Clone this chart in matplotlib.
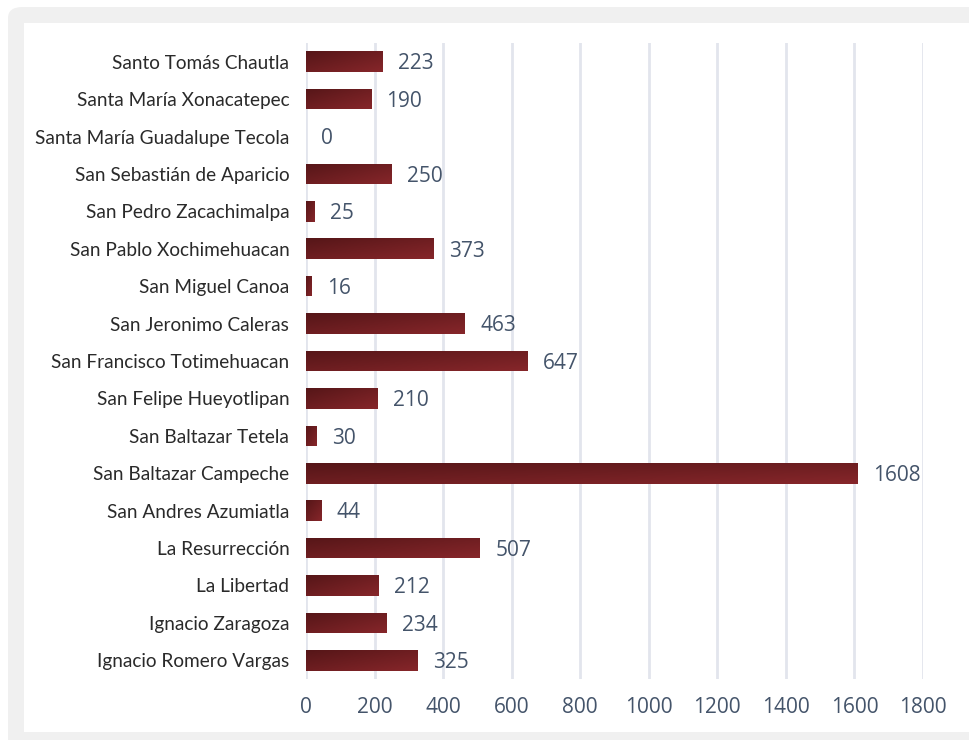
import matplotlib.pyplot as plt
import numpy as np
from matplotlib.patches import FancyBboxPatch, Rectangle
from matplotlib.colors import LinearSegmentedColormap

# Localidades y número de registros
localidades = [
    "Ignacio Romero Vargas", "Ignacio Zaragoza", "La Libertad", "La Resurrección",
    "San Andres Azumiatla", "San Baltazar Campeche", "San Baltazar Tetela",
    "San Felipe Hueyotlipan", "San Francisco Totimehuacan", "San Jeronimo Caleras",
    "San Miguel Canoa", "San Pablo Xochimehuacan", "San Pedro Zacachimalpa",
    "San Sebastián de Aparicio", "Santa María Guadalupe Tecola",
    "Santa María Xonacatepec", "Santo Tomás Chautla",
]
valores = [325, 234, 212, 507, 44, 1608, 30, 210, 647, 463, 16, 373, 25, 250, 0, 190, 223]
ticks_x = [0, 200, 400, 600, 800, 1000, 1200, 1400, 1600, 1800]

W, H = 969, 740
fig = plt.figure(figsize=(W / 100, H / 100), dpi=100)
fig.patch.set_facecolor("white")

# marco gris redondeado y panel blanco
fig.patches.append(FancyBboxPatch((8 / W, 1 - 760 / H), 1000 / W, 753 / H,
                                  boxstyle="round,pad=0,rounding_size=0.015",
                                  transform=fig.transFigure, facecolor="#f0f0f0",
                                  edgecolor="none", zorder=-3))
fig.patches.append(Rectangle((24 / W, 1 - 732 / H), 945 / W, 709 / H,
                             transform=fig.transFigure, facecolor="white",
                             edgecolor="none", zorder=-2))

ax = fig.add_axes([306 / W, 1 - 679 / H, 617 / W, 636 / H])
ax.set_facecolor("none")

y = np.arange(len(localidades))
bars = ax.barh(y, valores, height=0.55, color="#6e1f22", zorder=3)

# degradado diagonal dentro de cada barra
cmap = LinearSegmentedColormap.from_list("vino", ["#561618", "#86262a"])
grad = np.add.outer(np.linspace(1, 0, 20), np.linspace(0, 1, 60)) / 2
for b in bars:
    if b.get_width() <= 0:
        continue
    x0, y0 = b.get_x(), b.get_y()
    im = ax.imshow(grad, cmap=cmap, aspect="auto", zorder=4,
                   extent=[x0, x0 + b.get_width(), y0, y0 + b.get_height()],
                   origin="lower")
    im.set_clip_path(b)

for yi, v in zip(y, valores):
    ax.text(v + 45, yi - 0.06, str(v), va="center", ha="left", fontsize=15,
            color="#44546a", family="Open Sans", zorder=5)

ax.set_xlim(0, 1800)
ax.set_ylim(-0.5, len(localidades) - 0.5)
ax.set_xticks(ticks_x)
ax.set_xticklabels([str(t) for t in ticks_x], fontsize=15, color="#44546a",
                   family="Open Sans")
ax.set_yticks(y)
ax.set_yticklabels(localidades, fontsize=13.7, color="#2a2a2a", family="Lato")
ax.tick_params(axis="both", length=0)
ax.tick_params(axis="x", pad=13)
ax.tick_params(axis="y", pad=12)
ax.grid(axis="x", color="#e2e5ed", linewidth=2, zorder=0)
for s in ax.spines.values():
    s.set_visible(False)

fig.savefig("out.png", dpi=100)
